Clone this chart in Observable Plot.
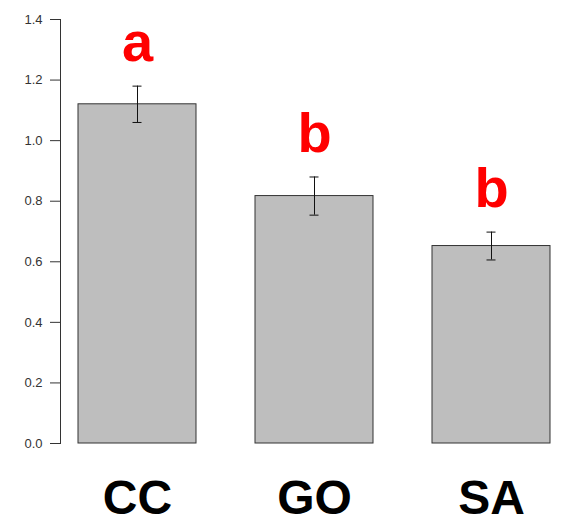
<!DOCTYPE html>
<html>
<head>
<meta charset="utf-8">
<script src="https://cdn.jsdelivr.net/npm/d3@7"></script>
<script src="https://cdn.jsdelivr.net/npm/@observablehq/plot@0.6"></script>
<style>
  html, body { margin: 0; padding: 0; background: #fff; }
  svg { display: block; }
</style>
</head>
<body>
<div id="chart"></div>
<script>
const categories = ["CC", "GO", "SA"];
const means = [1.12, 0.817, 0.652];
const errors = [0.06, 0.063, 0.046];
const letters = ["a", "b", "b"];
const yTicks = [0, 0.2, 0.4, 0.6, 0.8, 1.0, 1.2, 1.4];

const data = categories.map((c, i) => ({
  cat: c, mean: means[i], lo: means[i] - errors[i], hi: means[i] + errors[i], letter: letters[i]
}));

const chart = Plot.plot({
  width: 562,
  height: 525,
  marginLeft: 60,
  marginRight: 0,
  marginTop: 19,
  marginBottom: 82,
  style: { fontFamily: "Arial, 'Liberation Sans', sans-serif", background: "#fff" },
  x: { domain: categories, range: [60, 568], paddingInner: 1/3, paddingOuter: 0.1, axis: null },
  y: { domain: [0, 1.4], range: [443, 19] },
  marks: [
    Plot.frame({ anchor: "left", stroke: "#333" }),
    Plot.axisY({ ticks: yTicks, tickFormat: d3.format(".1f"), tickSize: 10, tickPadding: 8, fontSize: 13, color: "#333", label: null }),
    Plot.barY(data, { x: "cat", y: "mean", fill: "#bebebe", stroke: "#333", strokeWidth: 1 }),
    Plot.ruleX(data, { x: "cat", y1: "lo", y2: "hi", stroke: "#111", strokeWidth: 1 }),
    Plot.tickY(data, { x: "cat", y: "hi", stroke: "#111", insetLeft: 54.5, insetRight: 54.5 }),
    Plot.tickY(data, { x: "cat", y: "lo", stroke: "#111", insetLeft: 54.5, insetRight: 54.5 }),
    Plot.text(data, { x: "cat", y: "hi", text: "letter", lineAnchor: "bottom", dy: -25, fill: "#ff0000", fontSize: 56, fontWeight: "bold" }),
    Plot.text(data, { x: "cat", y: () => 0, text: "cat", lineAnchor: "bottom", dy: 70, fill: "#000", fontSize: 48, fontWeight: "bold" })
  ]
});
document.getElementById("chart").appendChild(chart);
</script>
</body>
</html>
